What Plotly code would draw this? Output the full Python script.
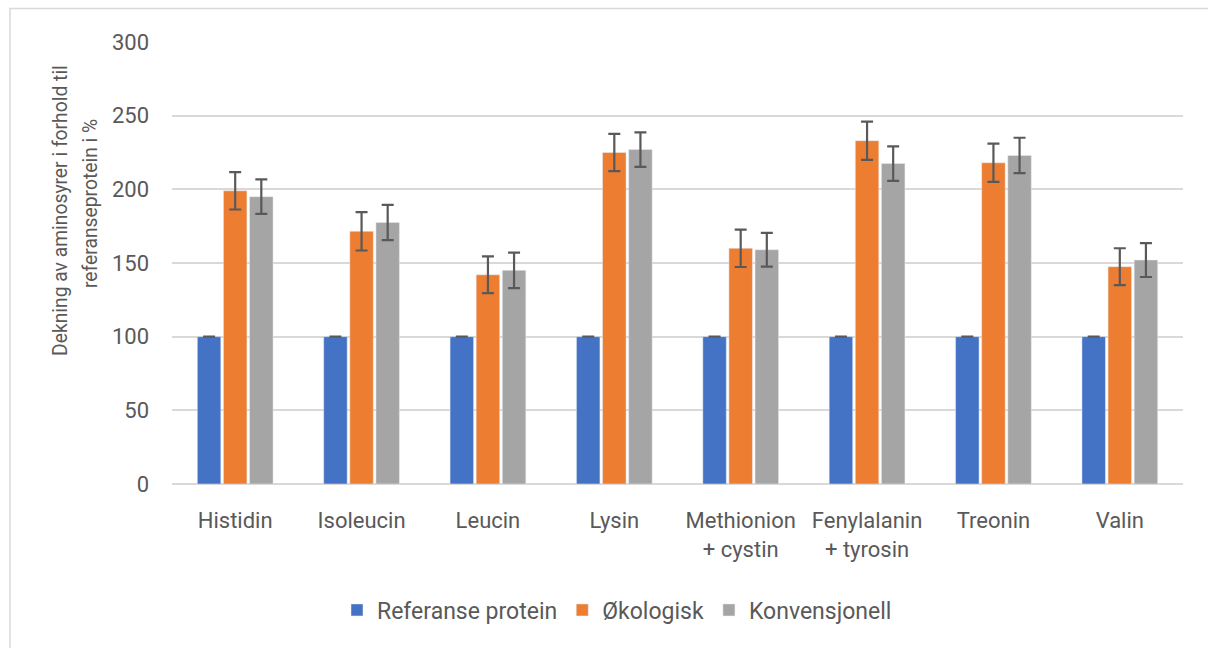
import plotly.graph_objects as go

categories = ["Histidin", "Isoleucin", "Leucin", "Lysin", "Methionion<br>+ cystin",
              "Fenylalanin<br>+ tyrosin", "Treonin", "Valin"]
referanse = [100, 100, 100, 100, 100, 100, 100, 100]
okologisk = [199, 171.5, 142, 225, 160, 233, 218, 147.5]
okologisk_err = [12.7, 13, 12.5, 12.7, 12.7, 13, 13, 12.5]
konvensjonell = [195, 177.5, 145, 227, 159, 217.5, 223, 152]
konvensjonell_err = [11.7, 12, 12, 11.7, 11.5, 11.7, 12, 11.5]
referanse_err = [0, 0, 0, 0, 0, 0, 0, 0]
y_title_lines = ["Dekning av aminosyrer i forhold til", "referanseprotein i %"]

err_style = dict(type="data", thickness=2.2, width=6, color="#595959", visible=True)

fig = go.Figure()
fig.add_trace(go.Bar(name="Referanse protein", x=categories, y=referanse,
                     marker_color="#4472C4",
                     error_y=dict(array=referanse_err, **err_style)))
fig.add_trace(go.Bar(name="Økologisk", x=categories, y=okologisk,
                     marker_color="#ED7D31",
                     error_y=dict(array=okologisk_err, **err_style)))
fig.add_trace(go.Bar(name="Konvensjonell", x=categories, y=konvensjonell,
                     marker_color="#A5A5A5",
                     error_y=dict(array=konvensjonell_err, **err_style)))

ml, mr, mt, mb = 172, 25, 42, 164
W, H = 1208, 648
pw, ph = W - ml - mr, H - mt - mb

def px_x(p):
    return (p - ml) / pw

def px_y(p):
    return (H - mb - p) / ph

FONT = "Roboto, Lato, sans-serif"
TXT = "#595959"

annotations = [
    dict(text=y_title_lines[0], xref="paper", yref="paper", x=px_x(60), y=px_y(211),
         xanchor="center", yanchor="middle", textangle=-90, showarrow=False,
         font=dict(family=FONT, size=19.3, color=TXT)),
    dict(text=y_title_lines[1], xref="paper", yref="paper", x=px_x(90), y=px_y(204),
         xanchor="center", yanchor="middle", textangle=-90, showarrow=False,
         font=dict(family=FONT, size=19.3, color=TXT)),
]

fig.update_layout(
    width=W, height=H,
    margin=dict(l=ml, r=mr, t=mt, b=mb),
    paper_bgcolor="white", plot_bgcolor="white",
    font=dict(family=FONT, color=TXT, size=20),
    barmode="group", bargap=0.38, bargroupgap=0.1,
    showlegend=True,
    legend=dict(orientation="h", x=px_x(337), xanchor="left", y=px_y(610), yanchor="middle",
                font=dict(family=FONT, size=23, color=TXT), traceorder="normal",
                itemwidth=30),
    yaxis=dict(range=[0, 300], dtick=50, showgrid=True, gridcolor="#D9D9D9", gridwidth=1.5,
               zeroline=True, zerolinecolor="#D9D9D9", zerolinewidth=1.5,
               showline=False, ticks="", ticklabelstandoff=22,
               tickfont=dict(family=FONT, size=22, color=TXT)),
    xaxis=dict(showline=False, ticks="", tickfont=dict(family=FONT, size=22, color=TXT),
               ticklabelstandoff=21),
    annotations=annotations,
    shapes=[dict(type="rect", xref="paper", yref="paper",
                 x0=px_x(10), x1=px_x(1230), y0=px_y(670), y1=px_y(8.5),
                 line=dict(color="#D9D9D9", width=1.5), fillcolor="rgba(0,0,0,0)",
                 layer="below")],
)

fig.write_html("out.html", config={"displayModeBar": False},
               post_script="document.body.style.margin='0';document.body.style.overflow='hidden';")
